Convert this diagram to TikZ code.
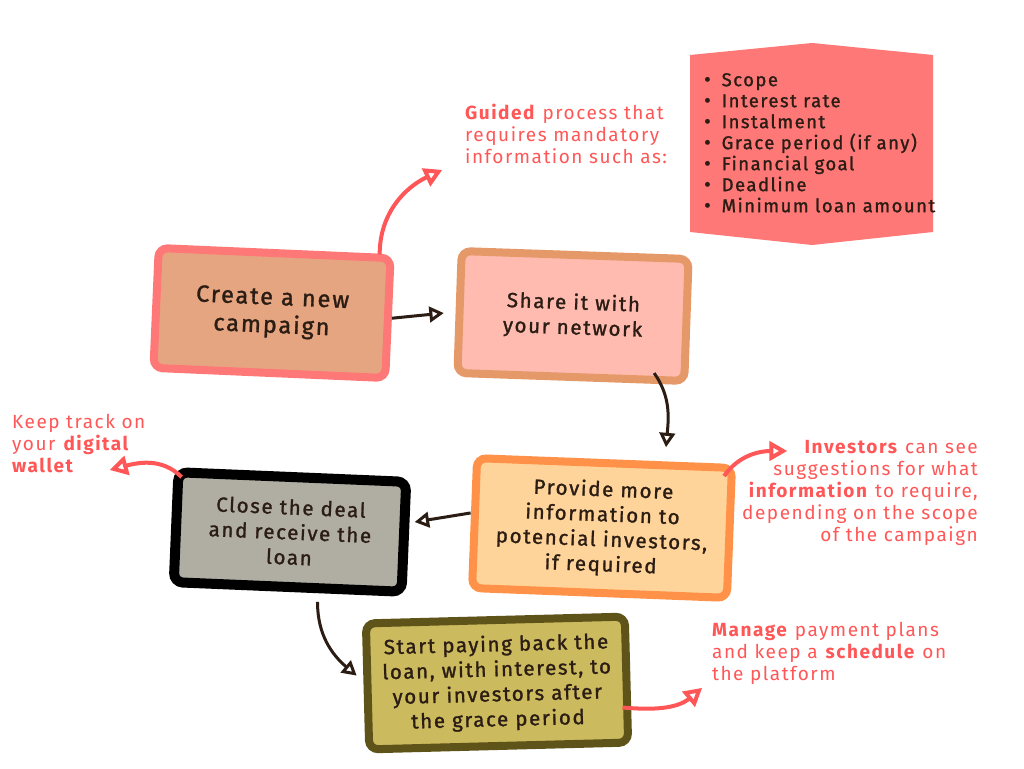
\documentclass[tikz,border=0pt]{standalone}
\usepackage{fontspec}
\setmainfont{Fira Sans}[LetterSpace=8]
\newfontfamily\stepfont{Fira Sans}[LetterSpace=8,FakeBold=1.3]
\usetikzlibrary{arrows}
\tikzset{>=open triangle 60}

\definecolor{inkdark}{HTML}{2B1D14}
\definecolor{notered}{HTML}{FF5757}
\definecolor{campfill}{HTML}{E5A580}
\definecolor{campline}{HTML}{FF7878}
\definecolor{sharefill}{HTML}{FFBBB0}
\definecolor{shareline}{HTML}{E59868}
\definecolor{infofill}{HTML}{FFD49A}
\definecolor{infoline}{HTML}{FF9148}
\definecolor{dealfill}{HTML}{B0AEA3}
\definecolor{payfill}{HTML}{CCBA5E}
\definecolor{payline}{HTML}{5E5319}
\definecolor{listfill}{HTML}{FF7878}

\newcommand{\fieldbullet}{{\fontsize{20}{21}\selectfont\textbullet}\hspace{11pt}}

\begin{document}
\begin{tikzpicture}[x=1pt,y=1pt]

\tikzstyle{stepbox}=[draw,line width=8pt,rounded corners=9pt,align=center,
  text=inkdark,font=\stepfont\fontsize{20.5}{25}\selectfont]
\tikzstyle{note}=[inner sep=0pt,text=notered,font=\fontsize{19}{22}\selectfont]
\tikzstyle{flow}=[->,draw=inkdark,line width=3pt]
\tikzstyle{hint}=[->,draw=notered,line width=4pt]

\useasboundingbox[fill=white] (0,0) rectangle (1024,768);

% list of mandatory fields
\fill[listfill] (690,713) -- (812,725) -- (933,713) -- (933,536)
  -- (812,523) -- (690,536) -- cycle;
\node[anchor=north west,align=left,inner sep=0pt,text=inkdark,
  font=\stepfont\fontsize{18.5}{21}\selectfont] (fields) at (704,695)
  {\fieldbullet Scope\\
   \fieldbullet Interest rate\\
   \fieldbullet Instalment\\
   \fieldbullet Grace period (if any)\\
   \fieldbullet Financial goal\\
   \fieldbullet Deadline\\
   \fieldbullet Minimum loan amount};

% steps
\node[stepbox,fill=campfill,draw=campline,minimum width=232pt,minimum height=120pt,
  rotate=-2.5,font=\stepfont\fontsize{23.5}{28}\selectfont] (camp) at (272,455)
  {Create a new\\campaign};
\node[stepbox,fill=sharefill,draw=shareline,minimum width=227pt,minimum height=122pt,
  rotate=-2] (share) at (573,452) {Share it with\\your network};
\node[stepbox,fill=infofill,draw=infoline,minimum width=255pt,minimum height=130pt,
  rotate=-2.2] (provide) at (602,240)
  {Provide more\\information to\\potencial investors,\\if required};
\node[stepbox,fill=dealfill,draw=black,line width=10pt,minimum width=228pt,
  minimum height=110pt,rotate=-2.4] (close) at (290,236)
  {Close the deal\\and receive the\\loan};
\node[stepbox,fill=payfill,draw=payline,minimum width=259pt,minimum height=126pt,
  rotate=1.5] (pay) at (497,85)
  {Start paying back the\\loan, with interest, to\\your investors after\\the grace period};

% notes
\node[note,anchor=north west,align=left] (guided) at (465,664)
  {\textbf{Guided} process that\\requires mandatory\\information such as:};
\node[note,anchor=north west,align=left] (wallet) at (12,354)
  {Keep track on\\your \textbf{digital}\\\textbf{wallet}};
\node[note,anchor=north east,align=right] (suggest) at (978,328)
  {\textbf{Investors} can see\\suggestions for what\\\textbf{information} to require,\\depending on the scope\\of the campaign};
\node[note,anchor=north west,align=left] (manage) at (712,146)
  {\textbf{Manage} payment plans\\and keep a \textbf{schedule} on\\the platform};

\coordinate (guidedtip) at (442,598);
\coordinate (suggesttip) at (787,317);
\coordinate (wallettip) at (110,298);
\coordinate (managetip) at (702,80);

% flow
\draw[flow,shorten >=12pt] (camp.east) -- (share.west);
\draw[flow] ([xshift=-34pt,yshift=12pt]share.south east) to[out=-55,in=85]
  ([xshift=-70pt,yshift=17pt]provide.north east);
\draw[flow,shorten >=6pt] ([yshift=10pt]provide.west) -- ([yshift=14pt]close.east);
\draw[flow] ([xshift=30pt,yshift=-10pt]close.south) to[out=-90,in=140]
  ([xshift=-7pt,yshift=11pt]pay.west);

% hints
\draw[hint] ([xshift=-15pt]camp.north east) to[out=90,in=205] (guidedtip);
\draw[hint] ([xshift=-12pt,yshift=-12pt]provide.north east) to[out=55,in=180] (suggesttip);
\draw[hint] ([xshift=8pt,yshift=-10pt]close.north west) to[out=135,in=15] (wallettip);
\draw[hint] ([xshift=-8pt,yshift=-28pt]pay.east) to[out=-5,in=220] (managetip);

\end{tikzpicture}
\end{document}
